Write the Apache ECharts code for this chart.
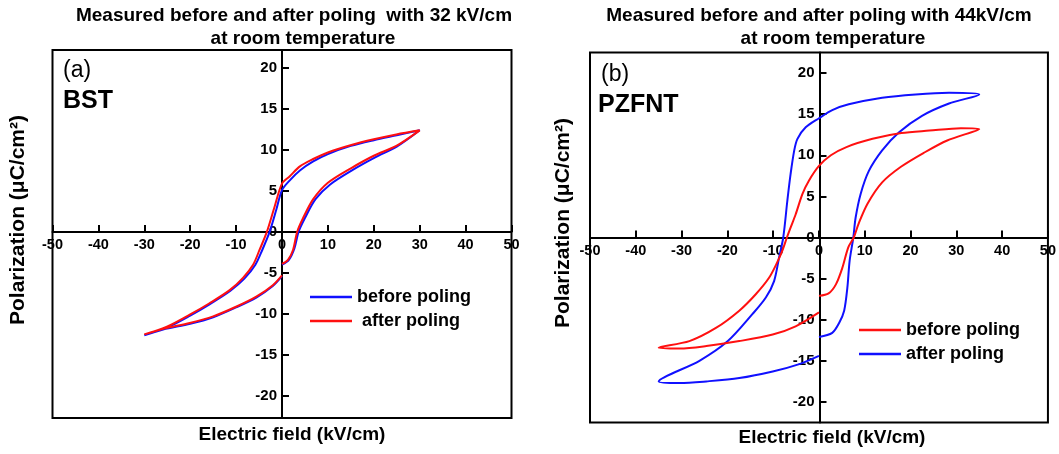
<!DOCTYPE html>
<html>
<head>
<meta charset="utf-8">
<script src="https://cdn.jsdelivr.net/npm/echarts@6/dist/echarts.min.js"></script>
<style>html,body{margin:0;padding:0;background:#fff}#c{width:1059px;height:454px}</style>
</head>
<body>
<div id="c"></div>
<script>
// ---- data (E in kV/cm, P in uC/cm^2) ----
const xTicks = [-50, -40, -30, -20, -10, 0, 10, 20, 30, 40, 50];
const yTicks = [-20, -15, -10, -5, 0, 5, 10, 15, 20];

const bstBefore = [
  [0,-4.0],[1.5,-3.4],[2.7,-2.0],[3.6,0],[5.0,1.7],[7.3,4.0],[10.5,5.8],[15.5,7.6],[20.3,9.1],[25,10.4],[30,12.4],
  [25,11.8],[20,11.2],[15,10.5],[10,9.5],[6.8,8.6],[3.9,7.5],[1.7,6.3],[0,5.1],[-1.2,2.8],[-2.7,0],[-4.3,-2.2],
  [-5.8,-4.0],[-8.2,-5.7],[-11.3,-7.2],[-15.7,-8.8],[-20,-10.2],[-25.2,-11.7],[-30,-12.6],
  [-25.9,-11.9],[-20,-11.2],[-15,-10.4],[-10,-9.2],[-5.6,-8.0],[-2,-6.6],[0,-5.4]
];
const bstAfter = [
  [0,-3.9],[1.3,-3.4],[2.4,-2.2],[3.3,0],[4.6,1.7],[6.8,4.0],[10,6.0],[15.1,7.8],[20,9.3],[24.9,10.5],[30,12.4],
  [24.9,11.9],[20,11.3],[15.1,10.6],[10,9.7],[6.8,8.9],[3.9,8.0],[1.7,6.8],[0,5.9],[-1.6,3.1],[-3.3,0],[-4.9,-2.2],
  [-6.3,-4.0],[-8.5,-5.6],[-11.4,-7.1],[-15.8,-8.7],[-20.1,-10.1],[-25.2,-11.6],[-30,-12.5],
  [-25.9,-11.8],[-20.1,-11.1],[-15,-10.3],[-9.9,-9.1],[-5.6,-7.9],[-2,-6.5],[0,-5.3]
];
const pzfntBefore = [
  [0,-7.1],[2.1,-6.8],[3.7,-5.7],[5.1,-3.7],[6.4,-1.2],[7.6,0],[8.6,1.6],[10.6,4.1],[13.8,6.7],[17.9,8.6],[22.9,10.3],[28,11.8],[35,13.2],
  [31,13.3],[24.1,13.0],[18,12.7],[11.7,12.0],[6,11.0],[2.6,10.0],[0,8.7],[-2.2,6.9],[-3.6,5.3],[-5.1,2.8],[-6.2,1.2],[-7.0,0],
  [-8.0,-1.6],[-9.1,-3.0],[-10.9,-4.9],[-13.8,-6.9],[-17.4,-8.9],[-22.5,-11.0],[-28.3,-12.6],[-35,-13.4],
  [-30.4,-13.5],[-24.6,-13.2],[-17.4,-12.6],[-10.1,-11.8],[-5.1,-10.8],[0,-9.1]
];
const pzfntAfter = [
  [0,-12.1],[2.9,-11.6],[4.4,-10.4],[5.5,-8.9],[6.2,-6.1],[6.7,-2.8],[7.5,0],[8.0,2.4],[9.1,5.3],[10.9,8.1],[13.8,10.6],[17.5,12.8],[22.5,14.8],[28.4,16.3],[35,17.4],
  [28.4,17.6],[21.1,17.4],[13.8,17.0],[6.5,16.2],[2.9,15.5],[0,14.5],[-2.9,13.4],[-4.7,12.0],[-5.4,10.6],[-6.2,7.7],[-6.9,4.5],[-7.8,0],
  [-8.7,-2.4],[-9.8,-5.3],[-11.6,-7.3],[-14.5,-9.3],[-19.9,-12.6],[-26.1,-15.0],[-35,-17.5],
  [-30.4,-17.7],[-24.6,-17.5],[-17.4,-17.1],[-10.1,-16.3],[-4.3,-15.4],[0,-14.4]
];

const FF = '"Liberation Sans", Arial, sans-serif';
const BLUE = '#1010ff', RED = '#ff1010';

const grids = [
  { left: 52.5, top: 50, width: 459, height: 368, yMin: -22.7, yMax: 22.2 },
  { left: 590, top: 52.5, width: 459, height: 370, yMin: -22.5, yMax: 22.5 }
];
const X_MIN = -50, X_MAX = 50;

function xAxis(i) {
  const g = grids[i];
  // move the whole axis (line, ticks, labels) up to P = 0
  const off = -((0 - g.yMin) / (g.yMax - g.yMin)) * g.height;
  return {
    type: 'value', gridIndex: i, min: X_MIN, max: X_MAX, interval: 10, position: 'bottom', offset: off,
    axisLine: { onZero: false, lineStyle: { color: '#000', width: 2 } },
    axisTick: { inside: true, length: 7, lineStyle: { color: '#000', width: 2 }, customValues: xTicks },
    axisLabel: { color: '#000', fontWeight: 'bold', fontSize: 14.5, fontFamily: FF, margin: 6,
                 customValues: xTicks, showMinLabel: true, showMaxLabel: true },
    splitLine: { show: false }
  };
}
function yAxis(i) {
  const g = grids[i];
  const off = -((0 - X_MIN) / (X_MAX - X_MIN)) * g.width;
  return {
    type: 'value', gridIndex: i, min: g.yMin, max: g.yMax, position: 'left', offset: off,
    axisLine: { onZero: false, lineStyle: { color: '#000', width: 2 } },
    axisTick: { inside: true, length: 7, lineStyle: { color: '#000', width: 2 }, customValues: yTicks },
    axisLabel: { color: '#000', fontWeight: 'bold', fontSize: 15, fontFamily: FF, margin: 5, customValues: yTicks },
    splitLine: { show: false }
  };
}
function line(name, data, color, i) {
  return { name, type: 'line', xAxisIndex: i, yAxisIndex: i, data, smooth: 0.3, showSymbol: false,
           lineStyle: { color, width: 2 }, itemStyle: { color }, animation: false };
}
function txt(x, y, text, font, extra) {
  return Object.assign({ type: 'text', x, y, style: { text, font, fill: '#000', align: 'center', verticalAlign: 'middle' } }, extra || {});
}

const chart = echarts.init(document.getElementById('c'));
chart.setOption({
  animation: false,
  grid: grids.map(g => ({ left: g.left, top: g.top, width: g.width, height: g.height, show: true,
                          borderColor: '#000', borderWidth: 2 })),
  xAxis: [xAxis(0), xAxis(1)],
  yAxis: [yAxis(0), yAxis(1)],
  legend: [
    { orient: 'vertical', left: 305, top: 283, icon: 'rect', itemWidth: 42, itemHeight: 2.5, itemGap: 6,
      textStyle: { fontSize: 18, fontWeight: 'bold', fontFamily: FF, color: '#000' },
      data: ['BST before poling', 'BST after poling'],
      formatter: n => n === 'BST after poling' ? ' after poling' : 'before poling' },
    { orient: 'vertical', left: 854, top: 316, icon: 'rect', itemWidth: 42, itemHeight: 2.5, itemGap: 6,
      textStyle: { fontSize: 18, fontWeight: 'bold', fontFamily: FF, color: '#000' },
      data: ['PZFNT before poling', 'PZFNT after poling'],
      formatter: n => n.replace('PZFNT ', '') }
  ],
  series: [
    line('BST before poling', bstBefore, BLUE, 0),
    line('BST after poling', bstAfter, RED, 0),
    line('PZFNT after poling', pzfntAfter, BLUE, 1),
    line('PZFNT before poling', pzfntBefore, RED, 1)
  ],
  graphic: [
    txt(294, 16, 'Measured before and after poling  with 32 kV/cm', 'bold 19px ' + FF),
    txt(303, 39, 'at room temperature', 'bold 19px ' + FF),
    txt(819, 16, 'Measured before and after poling with 44kV/cm', 'bold 19px ' + FF),
    txt(833, 39, 'at room temperature', 'bold 19px ' + FF),
    txt(292, 435, 'Electric field (kV/cm)', 'bold 19px ' + FF),
    txt(832, 438, 'Electric field (kV/cm)', 'bold 19px ' + FF),
    txt(18, 220, 'Polarization (μC/cm²)', 'bold 21px ' + FF, { rotation: Math.PI / 2 }),
    txt(563, 223, 'Polarization (μC/cm²)', 'bold 21px ' + FF, { rotation: Math.PI / 2 }),
    { type: 'text', x: 63, y: 71, style: { text: '(a)', font: '23px ' + FF, fill: '#000', align: 'left', verticalAlign: 'middle' } },
    { type: 'text', x: 63, y: 101, style: { text: 'BST', font: 'bold 25px ' + FF, fill: '#000', align: 'left', verticalAlign: 'middle' } },
    { type: 'text', x: 601, y: 75, style: { text: '(b)', font: '23px ' + FF, fill: '#000', align: 'left', verticalAlign: 'middle' } },
    { type: 'text', x: 598, y: 105, style: { text: 'PZFNT', font: 'bold 25px ' + FF, fill: '#000', align: 'left', verticalAlign: 'middle' } }
  ]
});
</script>
</body>
</html>
